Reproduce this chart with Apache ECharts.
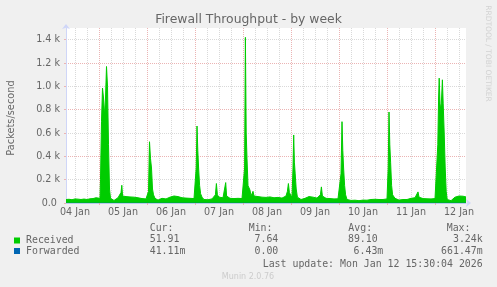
<!DOCTYPE html>
<html>
<head>
<meta charset="utf-8">
<script src="https://cdn.jsdelivr.net/npm/echarts@6/dist/echarts.min.js"></script>
<style>
html,body{margin:0;padding:0;background:#f0f0f0;}
#chart{width:497px;height:287px;}
</style>
</head>
<body>
<div id="chart"></div>
<script>
// ---- data (hours counted from 04 Jan 00:00) ----
const startHour = 7.5;     // 04 Jan 07:30
const endHour = 207.5;     // 12 Jan 15:30
const dayLabels = ['04 Jan','05 Jan','06 Jan','07 Jan','08 Jan','09 Jan','10 Jan','11 Jan','12 Jan'];
const yTickValues = [0,200,400,600,800,1000,1200,1400];
const yTickLabels = ['0.0','0.2 k','0.4 k','0.6 k','0.8 k','1.0 k','1.2 k','1.4 k'];
const seriesNames = ['Received','Forwarded'];
const statHeaders = ['Cur:','Min:','Avg:','Max:'];
const receivedStats = ['51.91','7.64','89.10','3.24k'];
const forwardedStats = ['41.11m','0.00','6.43m','661.47m'];
const lastUpdate = 'Last update: Mon Jan 12 15:30:04 2026';

const received = [
[7.5,30],[9,32],[10.5,28],[12,35],[13.5,33],[15,30],[16.5,34],[18,30],[19.5,36],[21,38],[22.5,45],[23.5,35],[24.5,40],
[24.75,200],[25.25,700],[25.75,985],[26.25,900],[26.75,750],[27.25,900],[27.75,1170],[28.25,1000],[28.75,500],[29.25,120],[29.75,40],
[30.5,25],[31.5,22],[32.5,30],[33.5,45],[34.5,40],[35,90],[35.4,152],[35.8,60],[36.5,45],[37.5,55],[38.5,58],[39.5,52],[40.5,55],[41.5,50],[42.5,48],[43.5,45],[44.5,40],[45.5,38],[46.5,42],[47.5,35],[48.5,40],
[48.75,100],[49.25,525],[49.75,380],[50.25,300],[50.75,120],[51.25,70],[52,40],
[52.5,30],[53.5,25],[54.5,35],[55.5,40],[56.5,30],[57.5,35],[58.5,45],[59.5,50],[60.5,55],[61.5,60],[62.5,58],[63.5,55],[64.5,50],[65.5,45],[66.5,40],[67.5,42],[68.5,38],[69.5,40],[70.5,42],[71.5,38],[72.25,45],
[72.6,300],[73,660],[73.4,450],[73.8,300],[74.3,150],[74.8,80],[75.5,50],
[76.5,30],[77.5,25],[78.5,28],[79.5,30],[80.5,35],[81.5,45],[82.2,70],[82.7,167],[83.2,70],[84,50],[85,48],[86,45],[86.9,60],[87.35,175],[87.8,60],[88.5,45],[89.5,40],[90.5,42],[91.5,38],[92.5,35],[93.5,40],[94.5,42],[95.5,38],[96.3,40],
[96.8,300],[97.2,1420],[97.6,600],[98,380],[98.5,150],[99,130],[99.5,110],[100,60],
[100.5,70],[101,100],[101.5,60],[102.5,50],[103.5,55],[104.5,45],[105.5,50],[106.5,55],[107.5,48],[108.5,50],[109.5,52],
[110.5,50],[111.5,45],[112.5,55],[113.5,48],[114.5,40],[115.5,42],[116.5,45],[117.5,60],[118.2,100],[118.7,167],[119.2,90],[119.8,70],[120.5,50],
[121,300],[121.35,583],[121.7,350],[122.1,250],[122.6,120],[123.2,50],
[124,35],[125,30],[126,38],[127,40],[128,45],[129,55],[130,60],[131,50],[132,45],[133,42],[134,48],[134.7,70],[135.2,138],[135.7,60],[136.5,45],[137.5,40],[138.5,42],[139.5,38],[140.5,40],[141.5,35],[142.5,38],[143.5,36],[144.5,40],
[145,250],[145.5,697],[145.9,450],[146.3,300],[146.8,150],[147.3,70],[148,30],
[149,25],[150,22],[151,20],[152,24],[153,22],[154,20],[155,23],[156,25],[157,22],[158,24],
[159,28],[160,30],[161,35],[162,32],[163,28],[164,30],[165,28],[166,30],[167,30],[168,35],
[168.6,300],[169,780],[169.4,500],[169.8,350],[170.3,150],[170.8,70],[171.5,60],[172,40],
[173,30],[174,25],[175,28],[176,30],[177,35],[178,30],[179,32],[180,40],[181,38],[182,45],[183,55],[183.5,95],[184,50],[185,40],[186,38],[187,35],[188,36],[189,38],[190,35],[191,36],[192,38],[193,40],
[193.4,500],[193.8,900],[194.1,1070],[194.5,850],[194.9,800],[195.3,900],[195.7,1056],[196.1,850],[196.6,600],[197.1,300],[197.6,100],[198.1,30],
[199,22],[200,20],[201,30],[202,50],[203,55],[204,60],[205,62],[206,58],[207,55],[207.5,52]
];
const forwarded = [[7.5,0.005],[50,0.004],[100,0.008],[150,0.006],[207.5,0.041]];

// ---- axis helpers ----
const slots = [];
for (let t = startHour; t <= endHour + 1e-9; t += 0.5) slots.push(String(t));
const tOf = i => startHour + i * 0.5;
const isDay = i => tOf(i) % 24 === 0;
const isSix = i => tOf(i) % 6 === 0;
const isNoon = i => tOf(i) % 24 === 12;

const FONT = 'DejaVu Sans';
const MONO = 'DejaVu Sans Mono';
const TXT = '#666666';
const AXIS = '#CFD6F8';
const GRIDC = '#d9d9d9';
const MGRIDC = '#ebb4b4';

const chart = echarts.init(document.getElementById('chart'), null, {renderer:'canvas'});

const colX = [149.7, 248.7, 348.3, 446.7];
const recRight = [null, 278.3, 377.7, 482.7];
const fwdRight = [null, 278.3, 383.3, 482.7];
const graphics = [];
statHeaders.forEach((h, k) => graphics.push({type:'text', x:colX[k], y:228.5, style:{text:h, fill:TXT, font:'9.9px ' + MONO, textAlign:'left', textVerticalAlign:'middle'}}));
[[receivedStats, recRight, 239.5], [forwardedStats, fwdRight, 251.8]].forEach(([arr, rights, y]) => {
  arr.forEach((s, k) => {
    if (k === 0) graphics.push({type:'text', x:colX[0], y:y, style:{text:s, fill:TXT, font:'9.9px ' + MONO, textAlign:'left', textVerticalAlign:'middle'}});
    else graphics.push({type:'text', x:rights[k], y:y, style:{text:s, fill:TXT, font:'9.9px ' + MONO, textAlign:'right', textVerticalAlign:'middle'}});
  });
});
graphics.push({type:'text', x:482.7, y:264, style:{text:lastUpdate, fill:TXT, font:'9.9px ' + MONO, textAlign:'right', textVerticalAlign:'middle'}});
graphics.push({type:'text', x:248, y:276.5, style:{text:'Munin 2.0.76', fill:'#cccccc', font:'8px ' + FONT, textAlign:'center', textVerticalAlign:'middle'}});
graphics.push({type:'text', x:487.5, y:53.5, rotation:-Math.PI/2, style:{text:'RRDTOOL / TOBI OETIKER', fill:'#d2d2d2', font:'7.5px ' + FONT, textAlign:'center', textVerticalAlign:'middle'}});

chart.setOption({
  animation:false,
  backgroundColor:'#f0f0f0',
  textStyle:{fontFamily:FONT},
  title:{text:'Firewall Throughput - by week', left:'center', top:13.5, padding:0,
    textStyle:{fontFamily:FONT, fontSize:12.4, fontWeight:'normal', color:TXT}},
  legend:{data:seriesNames, orient:'vertical', left:14, top:235.5, padding:0, itemGap:0.5,
    itemWidth:6, itemHeight:6, icon:'rect', selectedMode:false,
    itemStyle:{opacity:1},
    textStyle:{fontFamily:MONO, fontSize:9.9, color:TXT, padding:[0,0,0,1]}},
  grid:{left:66, top:28, width:400, height:175, containLabel:false, outerBoundsMode:'none',
    show:true, backgroundColor:'#ffffff', borderWidth:0},
  xAxis:[
    {type:'category', data:slots, boundaryGap:false, position:'bottom',
      axisLine:{show:true, lineStyle:{color:AXIS, width:1}, symbol:['none','arrow'], symbolSize:[6,5], symbolOffset:[0,5]},
      axisTick:{show:true, interval:(i)=>isDay(i), length:2, lineStyle:{color:MGRIDC}},
      axisLabel:{show:true, interval:(i)=>isNoon(i), formatter:(v,i)=>dayLabels[Math.floor(tOf(i)/24)],
        margin:4, fontFamily:FONT, fontSize:9.6, color:TXT},
      splitLine:{show:true, interval:(i)=>isSix(i) && !isDay(i), lineStyle:{color:GRIDC, width:1, type:[1,1]}}},
    {type:'category', data:slots, boundaryGap:false,
      axisLine:{show:false}, axisTick:{show:false}, axisLabel:{show:false},
      splitLine:{show:true, interval:(i)=>isDay(i), lineStyle:{color:MGRIDC, width:1, type:[1,1]}}},
    {type:'value', min:startHour, max:endHour, show:false, splitLine:{show:false}}
  ],
  yAxis:{type:'value', min:0, max:1500, interval:100,
    name:'Packets/second', nameLocation:'middle', nameGap:50, nameRotate:90,
    nameTextStyle:{fontFamily:FONT, fontSize:9.8, color:TXT, padding:[0,5,0,0]},
    axisLine:{show:true, lineStyle:{color:AXIS, width:1}, symbol:['none','arrow'], symbolSize:[6,5], symbolOffset:[0,4]},
    axisTick:{show:true, length:2, customValues:yTickValues, lineStyle:{color:MGRIDC}},
    axisLabel:{customValues:yTickValues, margin:6, fontFamily:FONT, fontSize:9.6, color:TXT,
      formatter:(v)=>{const s = yTickLabels[Math.round(v/200)]; return s.indexOf(' ') < 0 ? s + ' ' : s;}},
    splitLine:{show:true, lineStyle:{color:[MGRIDC, GRIDC], width:1, type:[1,1]}}},
  series:[
    {name:seriesNames[0], type:'line', xAxisIndex:2, data:received, color:'#00cc00',
      symbol:'none', showSymbol:false, sampling:null,
      lineStyle:{width:1, color:'#00cc00'}, areaStyle:{color:'#00cc00', opacity:1}},
    {name:seriesNames[1], type:'line', xAxisIndex:2, data:forwarded, color:'#0066b3',
      symbol:'none', showSymbol:false,
      lineStyle:{width:1, color:'rgba(0,102,179,0.45)'}}
  ],
  graphic:graphics
});
</script>
</body>
</html>
